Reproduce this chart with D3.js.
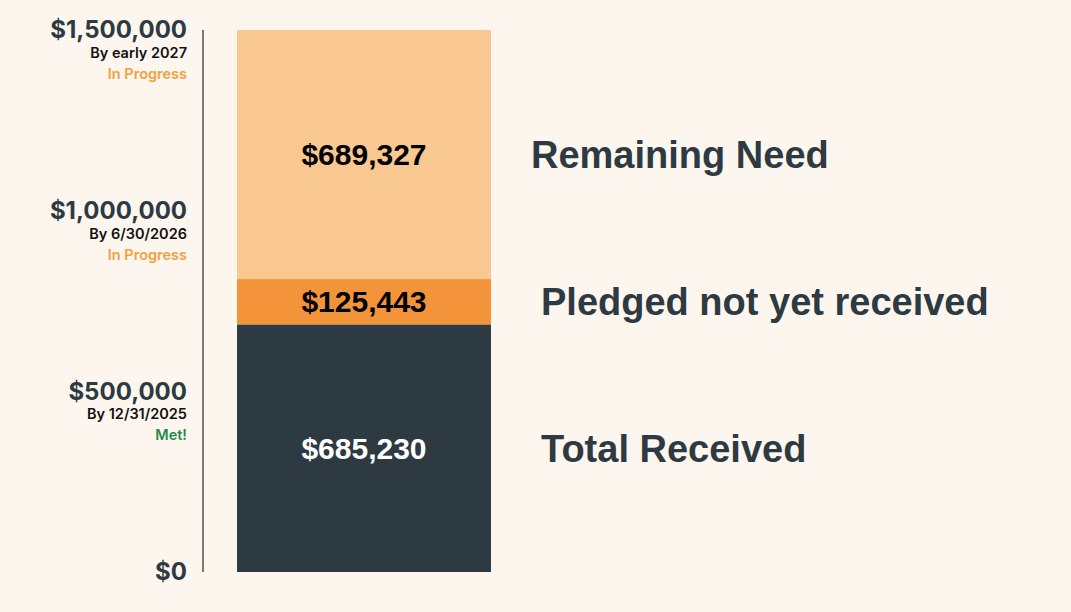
<!DOCTYPE html>
<html><head><meta charset="utf-8">
<script src="https://cdn.jsdelivr.net/npm/d3@7"></script>
<style>body{margin:0;background:#fdf6ee;}svg{display:block}</style></head>
<body><svg id="c" width="1071" height="612"></svg>
<script>
const segments = ["Total Received","Pledged not yet received","Remaining Need"];
const values = [685230,125443,689327];
const segColors = ["#2d3a42","#f4943a","#f9c891"];
const valueTextColors = ["#ffffff","#000000","#000000"];
const tickValues = [0,500000,1000000,1500000];
const tickSub = ["","By 12/31/2025","By 6/30/2026","By early 2027"];
const tickStatus = ["","Met!","In Progress","In Progress"];
const statusColors = ["","#1f8a4c","#f4a040","#f4a040"];
const labelX = [541,541,531];

const svg = d3.select("#c");
svg.append("rect").attr("width",1071).attr("height",612).attr("fill","#fdf6ee");
const y = d3.scaleLinear().domain([0,1500000]).range([572,30]);
const x = d3.scaleBand().domain(["goal"]).range([237,491]);

svg.append("line").attr("x1",203).attr("x2",203).attr("y1",y(1500000)).attr("y2",y(0)).attr("stroke","#222").attr("stroke-width",1.2);

let cum=0;
const stacked = values.map((v,i)=>{const s={i,v,y0:cum,y1:cum+v};cum+=v;return s;});
svg.selectAll("rect.seg").data(stacked).join("rect").attr("class","seg")
 .attr("x",x("goal")).attr("width",x.bandwidth())
 .attr("y",d=>y(d.y1)).attr("height",d=>y(d.y0)-y(d.y1))
 .attr("fill",d=>segColors[d.i]);
svg.selectAll("text.val").data(stacked).join("text").attr("class","val")
 .attr("x",x("goal")+x.bandwidth()/2).attr("y",d=>y((d.y0+d.y1)/2)).attr("dy","0.35em")
 .attr("text-anchor","middle").attr("font-family","Liberation Sans, Arial").attr("font-weight","bold")
 .attr("font-size",30).attr("fill",d=>valueTextColors[d.i]).text(d=>d3.format("$,")(d.v));
svg.selectAll("text.seglab").data(stacked).join("text").attr("class","seglab")
 .attr("x",d=>labelX[d.i]).attr("y",d=>y((d.y0+d.y1)/2)).attr("dy","0.35em")
 .attr("font-family","Liberation Sans, Arial").attr("font-weight","bold").attr("font-size",38)
 .attr("fill","#2d3a42").text(d=>segments[d.i]);

const g = svg.selectAll("g.tick").data(tickValues).join("g").attr("class","tick")
 .attr("transform",d=>`translate(187,${y(d)})`);
g.append("text").attr("text-anchor","end").attr("dy","0.35em").attr("font-family","Inter, sans-serif")
 .attr("font-weight","bold").attr("font-size",24).attr("fill","#2d3a42").text(d=>d3.format("$,")(d));
g.append("text").attr("text-anchor","end").attr("y",28).attr("font-family","Inter, sans-serif")
 .attr("font-weight","600").attr("font-size",14.5).attr("fill","#111").text((d,i)=>tickSub[i]);
g.append("text").attr("text-anchor","end").attr("y",49).attr("font-family","Inter, sans-serif")
 .attr("font-weight","600").attr("font-size",14.5).attr("fill",(d,i)=>statusColors[i]).text((d,i)=>tickStatus[i]);
</script></body></html>
